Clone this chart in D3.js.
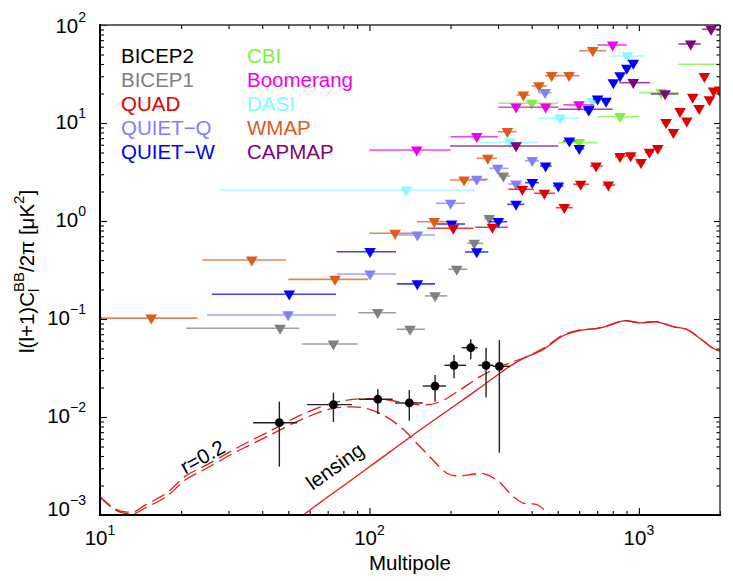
<!DOCTYPE html>
<html><head><meta charset="utf-8">
<script src="https://cdn.jsdelivr.net/npm/d3@7"></script>
<style>
body{margin:0;background:#fff;}
svg text{font-family:"Liberation Sans", Arial, Helvetica, sans-serif;fill:#000;}
</style></head><body>
<svg id="c" width="733" height="581"></svg>
<script>
// ---------------- data ----------------
const xMajorTicks = [10, 100, 1000];
const xTickExps = ["1", "2", "3"];
const yMajorTicks = [1e-3, 1e-2, 1e-1, 1, 10, 100];
const yTickExps = ["\u22123", "\u22122", "\u22121", "0", "1", "2"];

const legendNames = ["BICEP2","BICEP1","QUAD","QUIET\u2212Q","QUIET\u2212W","CBI","Boomerang","DASI","WMAP","CAPMAP"];
const legendColors = ["#000000","#808080","#e00000","#8080ff","#0000ff","#80f040","#ee00ee","#80ffff","#e05a1a","#800080"];

// BICEP2 band powers
const b2Ell   = [46.3, 73.5, 107.4, 140.6, 175.2, 206, 237.7, 270.9, 303.5];
const b2D     = [0.00875, 0.01336, 0.01517, 0.0139, 0.0207, 0.0337, 0.0509, 0.0337, 0.0329];
const b2DLo   = [0.00311, 0.00889, 0.01073, 0.00917, 0.01433, 0.0248, 0.0388, 0.0159, 0.00432];
const b2DHi   = [0.01433, 0.0177, 0.0193, 0.0189, 0.0268, 0.0429, 0.0621, 0.0509, 0.0611];
const b2EllLo = [37, 58.7, 91.5, 124.5, 157.7, 189.7, 220, 253.6, 286.9];
const b2EllHi = [53.9, 86.1, 122, 157.7, 192.4, 228.4, 252.3, 288.4, 332.6];

// upper limits: [ell, ellLo, ellHi, D]
const WMAP = [[15.5,10,23,0.102],[36.6,24,49,0.40],[74.5,50,99,0.254],[124.5,100,150,0.749],[174.1,150,199,0.984],
  [224.5,199,272,2.62],[274.9,250,297,4.36],[325,300,352,8.15],[372.7,352,394,19.3],[425.8,400,455,23.9],
  [474.6,448,502,30.4],[550.7,495,601,30.4],[674.4,601,755,54.7]];
const BICEP1 = [[46.6,20.9,54.9,0.0804],[73.5,56.1,90.5,0.0556],[107.3,90.9,125.5,0.116],[141.5,126.3,160.8,0.0785],
  [175.2,160.8,194.6,0.172],[210.9,196.3,230.9,0.322],[244.9,230.9,264.7,0.592],[278.4,266.9,292.6,1.056],[313.9,301,332.6,2.88]];
const QUIETQ = [[49.9,25,75.2,0.110],[100.5,75.6,125.5,0.288],[150.6,126.3,175.2,0.72],[200.2,176.7,226.4,1.516],
  [250.2,236.3,276.1,2.665],[299.2,278.4,327.5,3.45],[350.1,327.5,367.3,2.385],[402.1,377.7,425.8,4.125],[448.5,423.2,474.6,20.4]];
const QUIETW = [[50.4,26,75.2,0.179],[100.5,75.6,125.5,0.486],[150.6,126.3,175.2,0.228],[201.9,177.6,226.4,0.932],
  [250.2,226.4,276.1,0.483],[300.7,278.4,324.7,0.984],[350.1,324.7,375.5,1.48],[402.1,377.7,425.8,2.459],
  [450.8,429.8,474.6,3.64],[502.3,481.3,524.1,2.275],[552.1,524.1,579.8,6.55],[600.8,579.8,626,5.47],
  [651.2,626,675.5,13.57],[702.5,675.5,729.4,17.5],[755.3,729.4,781.6,16.6],[804,781.6,830,25.7],
  [851.4,830,876.5,30.2],[902,876.5,927.6,36.2],[953.3,927.6,984.7,40.7]];
const QUAD = [[204.7,163.9,243.1,0.842],[285.9,246.6,326.1,0.862],[369.5,327.5,408.3,2.106],[445.9,408.3,488.3,1.918],
  [528.6,491.2,568.1,1.367],[608.1,571,652.9,2.368],[693.6,659,733.8,3.64],[770.3,733.8,815.8,2.329],
  [851.4,815.8,888.7,4.53],[932.5,888.7,976.4,4.61],[1018,976.4,1054,3.95],[1094,1054,1134,5.02],
  [1175,1134,1219,5.49],[1262,1219,1306,10.07],[1343,1306,1386,7.96],[1422,1386,1466,13.1],
  [1506,1466,1545,10.48],[1584,1545,1631,18.3],[1673,1631,1712,14.0],[1750,1712,1791,29.7],
  [1827,1791,1862,17.2],[1894,1862,1943,21.1],[1990,1943,2040,21.7]];
const CBI = [[400,301,502.3,15.9],[600.8,502.3,700.7,6.30],[851.4,700.7,1003,11.6],[1209,1003,1402,20.4],[2300,1402,3000,39.7]];
const BOOMERANG = [[149.8,100,200.2,5.30],[250.2,200.2,300.7,7.25],[350.1,300.7,411.8,14.5],[450.8,411.8,502.3,14.5],
  [599.3,524.1,677.9,15.3],[799.4,700.7,902,62.5]];
const DASI = [[136.8,27.9,246.6,2.07],[332.6,250.2,421.4,6.37],[510,421.4,599.3,11.2],[674.4,605,707,16.5],[906.6,777,1054,48.3]];
const CAPMAP = [[350.1,199.2,502.3,5.83],[652.9,502.3,799.4,13.8],[953.3,845.8,1100.5,25.8],[1251,1107,1402,19.8],
  [1557,1402,1696,64.0],[1854,1712,2000,90.4]];

// theory curves [ell, D]
const tensorCurve = [[10,0.00152],[11.4,0.00112],[12.6,0.00103],[13.5,0.00104],[14.7,0.00118],[17.7,0.00155],
  [20.7,0.00228],[24.9,0.00300],[31.2,0.00425],[36.1,0.0052],[41.6,0.0063],[55.3,0.0093],[72.5,0.0122],
  [85,0.0127],[95,0.0124],[109.4,0.0109],[129.9,0.0080],[149.8,0.0054],[172.7,0.0036],[193.6,0.00267],
  [210,0.00250],[223,0.00252],[245,0.00262],[264.7,0.00265],[296.7,0.00228],[342,0.00154],[372,0.00132],
  [395,0.00130],[417.5,0.00128],[468,0.00100],[500,0.00086]];
const totalCurve = [[10,0.00155],[11.4,0.00115],[12.6,0.00107],[13.5,0.00109],[14.7,0.00126],[17.7,0.00168],
  [20.7,0.00248],[24.9,0.00325],[31.2,0.0046],[36.1,0.0057],[41.6,0.0069],[55.3,0.0104],[73.4,0.0139],
  [92.3,0.0153],[115.9,0.0150],[137.4,0.0138],[163.1,0.0133],[182.8,0.0143],[216.9,0.0189],[257.3,0.0258],
  [305.3,0.0326],[342,0.0367],[383.2,0.0412],[441.7,0.0502],[524,0.0687],[605,0.0773],[697,0.0804],
  [780,0.087],[876,0.0961],[1010,0.0917],[1164,0.0938],[1343,0.0834],[1505,0.0785],[1687,0.0635],
  [1891,0.0502],[2000,0.0471]];
const lensingCurve = [[50,0.00077],[56.9,0.001],[67.5,0.00142],[100,0.0031],[145.6,0.0066],[200,0.0122],
  [250,0.0188],[305,0.028],[362,0.038],[441.7,0.049],[524,0.0675],[605,0.0765],[697,0.0798],[780,0.0865],
  [876,0.0958],[1010,0.0915],[1164,0.0935],[1343,0.0832],[1505,0.0783],[1687,0.0633],[1891,0.050],[2000,0.047]];

// ---------------- chart ----------------
const svg = d3.select("#c");
const x = d3.scaleLog().domain([10, 2000]).range([100, 720]);
const y = d3.scaleLog().domain([1e-3, 100]).range([515, 25]);
const RED = "#e31a1c";

svg.append("defs").append("clipPath").attr("id","plot")
  .append("rect").attr("x",100).attr("y",25).attr("width",620).attr("height",490);
const plot = svg.append("g").attr("clip-path","url(#plot)");

const experiments = [
  {data: DASI, color: legendColors[7]},
  {data: CBI, color: legendColors[5]},
  {data: BOOMERANG, color: legendColors[6]},
  {data: CAPMAP, color: legendColors[9]},
  {data: WMAP, color: legendColors[8]},
  {data: BICEP1, color: legendColors[1]},
  {data: QUIETQ, color: legendColors[3]},
  {data: QUIETW, color: legendColors[4]},
  {data: QUAD, color: legendColors[2]}
];
experiments.forEach(e => {
  const g = plot.append("g");
  g.selectAll("line").data(e.data).join("line")
    .attr("x1", d => x(d[1])).attr("x2", d => x(d[2]))
    .attr("y1", d => y(d[3])).attr("y2", d => y(d[3]))
    .attr("stroke", e.color).attr("stroke-opacity", 0.75).attr("stroke-width", 1.6);
  g.selectAll("path").data(e.data).join("path")
    .attr("d", "M-5.8,-3.6L5.8,-3.6L0,6.4Z")
    .attr("transform", d => `translate(${x(d[0])},${y(d[3])})`)
    .attr("fill", e.color);
});

const line = d3.line().x(d => x(d[0])).y(d => y(d[1])).curve(d3.curveCatmullRom.alpha(0.5));
plot.append("path").attr("d", line(lensingCurve)).attr("fill","none").attr("stroke",RED).attr("stroke-width",1.3);
plot.append("path").attr("d", line(tensorCurve)).attr("fill","none").attr("stroke",RED).attr("stroke-width",1.3)
  .attr("stroke-dasharray","14,6");
plot.append("path").attr("d", line(totalCurve)).attr("fill","none").attr("stroke",RED).attr("stroke-width",1.3)
  .attr("stroke-dasharray","14,6");

// BICEP2 points
const b2 = b2Ell.map((l,i) => ({l, d:b2D[i], lo:b2DLo[i], hi:b2DHi[i], llo:b2EllLo[i], lhi:b2EllHi[i]}));
const gb = plot.append("g");
gb.selectAll("line.h").data(b2).join("line").attr("class","h")
  .attr("x1", d => x(d.llo)).attr("x2", d => x(d.lhi)).attr("y1", d => y(d.d)).attr("y2", d => y(d.d))
  .attr("stroke","#222").attr("stroke-width",1.4);
gb.selectAll("line.v").data(b2).join("line").attr("class","v")
  .attr("x1", d => x(d.l)).attr("x2", d => x(d.l)).attr("y1", d => y(d.lo)).attr("y2", d => y(d.hi))
  .attr("stroke","#222").attr("stroke-width",1.4);
gb.selectAll("circle").data(b2).join("circle")
  .attr("cx", d => x(d.l)).attr("cy", d => y(d.d)).attr("r", 4.4).attr("fill","#000");

// annotations
svg.append("text").attr("transform","translate(206,463) rotate(-29)").attr("text-anchor","middle")
  .style("font-size","20.5px").text("r=0.2");
svg.append("text").attr("transform","translate(339,472) rotate(-35.5)").attr("text-anchor","middle")
  .style("font-size","20.5px").text("lensing");

// axes ticks
const isMajor = v => Math.abs(Math.log10(v) - Math.round(Math.log10(v))) < 1e-9;
const xMinor = x.ticks().filter(v => !isMajor(v));
const yMinor = y.ticks().filter(v => !isMajor(v));
function ticks(axisFn, scale, vals, size, tr) {
  const g = svg.append("g").attr("transform", tr)
    .call(axisFn(scale).tickValues(vals).tickSize(size).tickFormat(""));
  g.select(".domain").remove();
  g.selectAll(".tick line").attr("stroke","#000").attr("stroke-width",1.1);
}
ticks(d3.axisBottom, x, xMajorTicks, -7, "translate(0,515)");
ticks(d3.axisBottom, x, xMinor, -4, "translate(0,515)");
ticks(d3.axisTop, x, xMajorTicks, -6, "translate(0,25)");
ticks(d3.axisTop, x, xMinor, -4, "translate(0,25)");
ticks(d3.axisLeft, y, yMajorTicks, -7, "translate(100,0)");
ticks(d3.axisLeft, y, yMinor, -4, "translate(100,0)");
ticks(d3.axisRight, y, yMajorTicks, -6, "translate(720,0)");
ticks(d3.axisRight, y, yMinor, -3.5, "translate(720,0)");

// frame
svg.append("line").attr("x1",100).attr("x2",720).attr("y1",25).attr("y2",25).attr("stroke","#333").attr("stroke-width",1.4);
svg.append("line").attr("x1",720).attr("x2",720).attr("y1",25).attr("y2",515).attr("stroke","#333").attr("stroke-width",1.4);
svg.append("line").attr("x1",100).attr("x2",100).attr("y1",24).attr("y2",516).attr("stroke","#000").attr("stroke-width",2);
svg.append("line").attr("x1",99).attr("x2",721).attr("y1",515).attr("y2",515).attr("stroke","#000").attr("stroke-width",2.2);

// tick labels
yMajorTicks.forEach((v,i) => {
  const yy = Math.min(516, Math.max(33, y(v) + 6));
  const t = svg.append("text").attr("x",86).attr("y",yy).attr("text-anchor","end").style("font-size","20.5px").text("10");
  t.append("tspan").attr("dy",-11).style("font-size","14px").text(yTickExps[i]);
});
xMajorTicks.forEach((v,i) => {
  const t = svg.append("text").attr("x",x(v)).attr("y",545).attr("text-anchor","middle").style("font-size","20.5px").text("10");
  t.append("tspan").attr("dy",-10).style("font-size","14px").text(xTickExps[i]);
});

// axis titles
svg.append("text").attr("x",410).attr("y",570).attr("text-anchor","middle").style("font-size","20.5px").text("Multipole");

function textWidth(str, size) {
  const t = svg.append("text").style("font-size", size).text(str);
  const w = t.node().getComputedTextLength(); t.remove(); return w;
}
const wBB = textWidth("BB","15px"), wl = textWidth("l","15px");
const yl = svg.append("text").attr("transform","translate(34,353) rotate(-90)").style("font-size","20.5px");
yl.append("tspan").text("l(l+1)C");
yl.append("tspan").attr("dy",-10).style("font-size","15px").text("BB");
yl.append("tspan").attr("dx",-wBB).attr("dy",15).style("font-size","15px").text("l");
yl.append("tspan").attr("dx",wBB - wl).attr("dy",-5).text("/2\u03c0 [\u03bcK");
yl.append("tspan").attr("dy",-10).style("font-size","15px").text("2");
yl.append("tspan").attr("dy",10).text("]");

// legend
legendNames.forEach((n,i) => {
  const col = Math.floor(i/5), row = i % 5;
  svg.append("text").attr("x", col ? 247 : 121).attr("y", 62.7 + row*24.1)
    .style("font-size","20.5px").style("fill", legendColors[i]).text(n);
});
</script>
</body></html>
